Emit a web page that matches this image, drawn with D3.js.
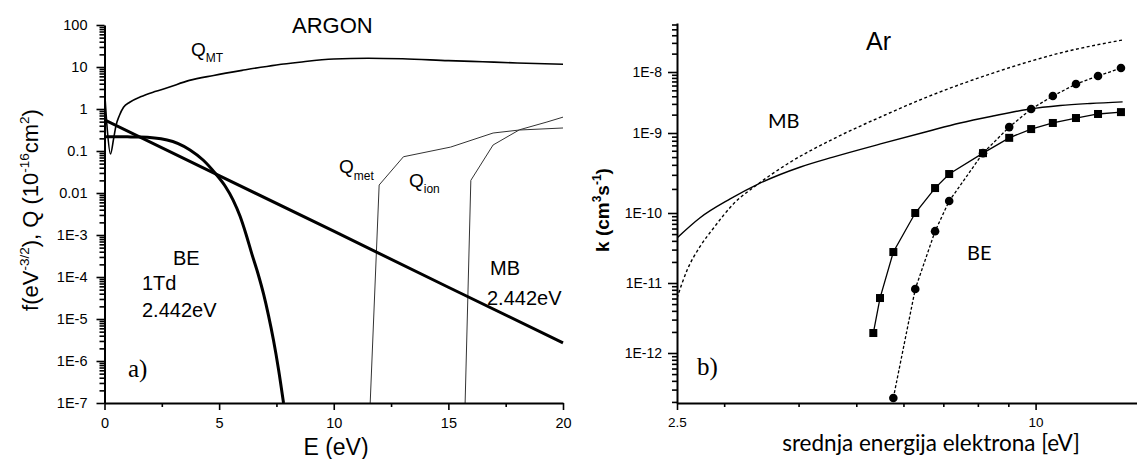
<!DOCTYPE html>
<html><head><meta charset="utf-8">
<script src="https://cdn.jsdelivr.net/npm/d3@7"></script>
<style>body{margin:0;background:#fff} svg{display:block}</style>
</head><body><svg id="c" width="1137" height="459"></svg>
<script>
// ---------- Panel a) ARGON ----------
const aXTicks = [0, 5, 10, 15, 20];
const aXMinor = [2.5, 7.5, 12.5, 17.5];
const aYTicks = [100, 10, 1, 0.1, 0.01, 1e-3, 1e-4, 1e-5, 1e-6, 1e-7];
const aYTickLabels = ["100", "10", "1", "0.1", "0.01", "1E-3", "1E-4", "1E-5", "1E-6", "1E-7"];

const aE_MB = [0, 5, 10, 15, 20];
const aMB = [0.55, 0.026, 1.23e-3, 5.7e-5, 2.7e-6];

const aE_BE = [0, 1, 1.55, 2.73, 3.73, 4.30, 4.82, 5.26, 5.61, 5.91, 6.17, 6.43, 6.70, 6.94, 7.15, 7.37, 7.59, 7.81];
const aBE = [0.219, 0.217, 0.215, 0.183, 0.106, 0.061, 0.030, 0.0147, 6.8e-3, 2.83e-3, 1.06e-3, 3.5e-4, 1.18e-4, 3.9e-5, 1.24e-5, 3.16e-6, 6.4e-7, 1e-7];

const aE_QMT = [0, 0.05, 0.12, 0.26, 0.4, 0.5, 0.65, 0.83, 1.1, 1.57, 2.2, 2.74, 3.7, 4.76, 6, 7.5, 8.5, 10, 11.5, 13, 15, 16.5, 18, 20];
const aQMT = [3, 1.1, 0.33, 0.085, 0.2, 0.4, 0.7, 1.1, 1.45, 1.95, 2.6, 3.2, 4.8, 6.3, 8.3, 11.2, 13, 15.5, 16.2, 15.7, 14.2, 13.3, 12.5, 11.6];

const aE_Qmet = [11.59, 11.98, 13.04, 15.1, 16.95, 18.1, 20];
const aQmet = [1e-7, 0.0155, 0.073, 0.124, 0.268, 0.316, 0.353];

const aE_Qion = [15.73, 15.98, 16.95, 18.1, 19.3, 20];
const aQion = [1e-7, 0.02, 0.139, 0.32, 0.49, 0.64];

// ---------- Panel b) Ar ----------
const bXTicks = [2.5, 10];
const bXTickLabels = ["2.5", "10"];
const bXMinor = [3, 4, 5, 6, 7, 8, 9];
const bYTicks = [1e-8, 1e-9, 1e-10, 1e-11, 1e-12];
const bYTickLabels = ["1E-8", "1E-9", "1E-10", "1E-11", "1E-12"];

const bE_MB = [2.5, 2.73, 3.07, 3.42, 4.03, 4.57, 5.49, 6.58, 7.47, 8.48, 9.68, 11.0, 12.35, 14.0];
const bMB = [4.4e-11, 8.5e-11, 1.5e-10, 2.3e-10, 3.76e-10, 5.0e-10, 7.3e-10, 1.06e-9, 1.46e-9, 1.9e-9, 2.43e-9, 2.82e-9, 3.05e-9, 3.24e-9];

const bE_MBd = [2.5, 2.6, 2.73, 2.88, 3.11, 3.42, 3.83, 4.57, 5.49, 6.58, 8.48, 11.0, 14.0];
const bMBd = [6.1e-12, 1.53e-11, 3.27e-11, 6.1e-11, 1.3e-10, 2.3e-10, 4.1e-10, 8.4e-10, 1.83e-9, 3.9e-9, 9.6e-9, 2.05e-8, 3.35e-8];

const bE_sq = [5.34, 5.48, 5.77, 6.28, 6.78, 7.16, 8.16, 9.03, 9.83, 10.69, 11.69, 12.73, 13.91];
const bSq = [1.93e-12, 6.1e-12, 2.77e-11, 1.0e-10, 2.05e-10, 3.07e-10, 5.6e-10, 8.7e-10, 1.16e-9, 1.46e-9, 1.76e-9, 2.05e-9, 2.2e-9];

const bE_ci = [5.77, 6.28, 6.78, 7.16, 8.16, 9.03, 9.83, 10.69, 11.69, 12.73, 13.91];
const bCi = [2.28e-13, 8.2e-12, 5.5e-11, 1.41e-10, 5.6e-10, 1.25e-9, 2.47e-9, 4.04e-9, 6.35e-9, 8.6e-9, 1.16e-8];

const svg = d3.select("#c");
const SANS = "'Liberation Sans', Arial, sans-serif";
const SERIF = "'Liberation Serif', 'Times New Roman', serif";
const zip = (xs, ys) => xs.map((x, i) => [x, ys[i]]);

// ===== Panel a =====
const xa = d3.scaleLinear().domain([0, 20]).range([104.5, 563]);
const ya = d3.scaleLog().domain([1e-7, 100]).range([403, 25]);

svg.append("clipPath").attr("id", "ca").append("rect")
  .attr("x", 104).attr("y", 20).attr("width", 462).attr("height", 383);

const ga = svg.append("g");
const lineA = (curve) => d3.line().x(d => xa(d[0])).y(d => ya(d[1])).curve(curve);
const pa = ga.append("g").attr("clip-path", "url(#ca)").attr("fill", "none");
pa.append("path").attr("d", lineA(d3.curveMonotoneX)(zip(aE_QMT, aQMT))).attr("stroke", "#000").attr("stroke-width", 1.6);
pa.append("path").attr("d", lineA(d3.curveLinear)(zip(aE_Qmet, aQmet))).attr("stroke", "#333").attr("stroke-width", 1);
pa.append("path").attr("d", lineA(d3.curveLinear)(zip(aE_Qion, aQion))).attr("stroke", "#333").attr("stroke-width", 1);
pa.append("path").attr("d", lineA(d3.curveLinear)(zip(aE_MB, aMB))).attr("stroke", "#000").attr("stroke-width", 3);
pa.append("path").attr("d", lineA(d3.curveMonotoneX)(zip(aE_BE, aBE))).attr("stroke", "#000").attr("stroke-width", 3);

// axes a
const axA = ga.append("g").attr("font-family", SANS);
const xaMaj = axA.append("g").attr("transform", "translate(0,403)")
  .call(d3.axisBottom(xa).tickValues(aXTicks).tickFormat(d3.format("d")).tickSize(7).tickPadding(8).tickSizeOuter(0));
const xaMin = axA.append("g").attr("transform", "translate(0,403)")
  .call(d3.axisBottom(xa).tickValues(aXMinor).tickFormat("").tickSize(4).tickSizeOuter(0));
const yaMinorVals = ya.ticks().filter(v => !aYTicks.some(t => Math.abs(Math.log10(t) - Math.log10(v)) < 1e-6));
const yaMaj = axA.append("g").attr("transform", "translate(104.5,0)")
  .call(d3.axisLeft(ya).tickValues(aYTicks).tickFormat((d, i) => aYTickLabels[i]).tickSize(8).tickPadding(9).tickSizeOuter(0));
const yaMin = axA.append("g").attr("transform", "translate(104.5,0)")
  .call(d3.axisLeft(ya).tickValues(yaMinorVals).tickFormat("").tickSize(5).tickSizeOuter(0));
[xaMaj, yaMaj].forEach(g => { g.select(".domain").attr("stroke-width", 2); g.selectAll("text").attr("font-size", 14.5).attr("fill", "#000"); });
[xaMin, yaMin].forEach(g => g.select(".domain").remove());
axA.selectAll(".tick line").attr("stroke-width", 1.6);

// texts a
const ta = ga.append("g").attr("font-family", SANS).attr("fill", "#000");
ta.append("text").attr("x", 292).attr("y", 33).attr("font-size", 22).text("ARGON");
ta.append("text").attr("x", 336).attr("y", 455).attr("font-size", 23).attr("text-anchor", "middle").text("E (eV)");
const qmt = ta.append("text").attr("x", 191).attr("y", 56).attr("font-size", 19);
qmt.append("tspan").text("Q");
qmt.append("tspan").attr("font-size", 12).attr("dy", 6).text("MT");
const qmet = ta.append("text").attr("x", 339).attr("y", 173).attr("font-size", 19);
qmet.append("tspan").text("Q");
qmet.append("tspan").attr("font-size", 12).attr("dy", 7).text("met");
const qion = ta.append("text").attr("x", 409).attr("y", 187).attr("font-size", 19);
qion.append("tspan").text("Q");
qion.append("tspan").attr("font-size", 12).attr("dy", 6).text("ion");
ta.append("text").attr("x", 173).attr("y", 265).attr("font-size", 20).text("BE");
ta.append("text").attr("x", 142).attr("y", 290).attr("font-size", 20).text("1Td");
ta.append("text").attr("x", 142).attr("y", 317).attr("font-size", 20).text("2.442eV");
ta.append("text").attr("x", 490).attr("y", 275).attr("font-size", 20).text("MB");
ta.append("text").attr("x", 487).attr("y", 305).attr("font-size", 20).text("2.442eV");
ta.append("text").attr("x", 128).attr("y", 377).attr("font-size", 25).attr("font-family", SERIF).text("a)");
const yta = ta.append("text").attr("transform", "translate(38,210) rotate(-90)").attr("text-anchor", "middle").attr("font-size", 22);
yta.append("tspan").text("f(eV");
yta.append("tspan").attr("font-size", 13.5).attr("dy", -9).text("-3/2");
yta.append("tspan").attr("dy", 9).text("), Q (10");
yta.append("tspan").attr("font-size", 13.5).attr("dy", -9).text("-16");
yta.append("tspan").attr("dy", 9).text("cm");
yta.append("tspan").attr("font-size", 13.5).attr("dy", -9).text("2");
yta.append("tspan").attr("dy", 9).text(")");

// ===== Panel b =====
const xb = d3.scaleLog().domain([2.5, 14.8]).range([677, 1137]);
const yb = d3.scaleLog().domain([1.93e-13, 1e-12, 1e-11, 1e-10, 1e-9, 1e-8, 6.35e-8]).range([403, 353, 283, 213, 133, 72, 23]);

svg.append("clipPath").attr("id", "cb").append("rect")
  .attr("x", 677).attr("y", 20).attr("width", 460).attr("height", 383);
const gb = svg.append("g");
const lineB = (curve) => d3.line().x(d => xb(d[0])).y(d => yb(d[1])).curve(curve);
const pb = gb.append("g").attr("clip-path", "url(#cb)").attr("fill", "none");
pb.append("path").attr("d", lineB(d3.curveMonotoneX)(zip(bE_MB, bMB))).attr("stroke", "#000").attr("stroke-width", 1.4);
pb.append("path").attr("d", lineB(d3.curveMonotoneX)(zip(bE_MBd, bMBd))).attr("stroke", "#000").attr("stroke-width", 1.4).attr("stroke-dasharray", "3,2.5");
pb.append("path").attr("d", lineB(d3.curveLinear)(zip(bE_sq, bSq))).attr("stroke", "#000").attr("stroke-width", 1.3);
pb.append("path").attr("d", lineB(d3.curveLinear)(zip(bE_ci, bCi))).attr("stroke", "#000").attr("stroke-width", 1.3).attr("stroke-dasharray", "3,2");
gb.append("g").selectAll("rect").data(zip(bE_sq, bSq)).join("rect")
  .attr("x", d => xb(d[0]) - 4).attr("y", d => yb(d[1]) - 4).attr("width", 8).attr("height", 8).attr("fill", "#000");
gb.append("g").selectAll("circle").data(zip(bE_ci, bCi)).join("circle")
  .attr("cx", d => xb(d[0])).attr("cy", d => yb(d[1])).attr("r", 4.3).attr("fill", "#000");

const axB = gb.append("g").attr("font-family", SANS);
const xbMaj = axB.append("g").attr("transform", "translate(0,403)")
  .call(d3.axisBottom(xb).tickValues(bXTicks).tickFormat((d, i) => bXTickLabels[i]).tickSize(7).tickPadding(7).tickSizeOuter(0));
const xbMin = axB.append("g").attr("transform", "translate(0,403)")
  .call(d3.axisBottom(xb).tickValues(bXMinor).tickFormat("").tickSize(4).tickSizeOuter(0));
const ybMinorVals = yb.ticks().filter(v => !bYTicks.some(t => Math.abs(Math.log10(t) - Math.log10(v)) < 1e-6));
const ybMaj = axB.append("g").attr("transform", "translate(677,0)")
  .call(d3.axisLeft(yb).tickValues(bYTicks).tickFormat((d, i) => bYTickLabels[i]).tickSize(9).tickPadding(6).tickSizeOuter(0));
const ybMin = axB.append("g").attr("transform", "translate(677,0)")
  .call(d3.axisLeft(yb).tickValues(ybMinorVals).tickFormat("").tickSize(5).tickSizeOuter(0));
[xbMaj, ybMaj].forEach(g => { g.select(".domain").attr("stroke-width", 2); g.selectAll("text").attr("fill", "#000"); });
xbMaj.selectAll("text").attr("font-size", 13.5);
ybMaj.selectAll("text").attr("font-size", 14);
[xbMin, ybMin].forEach(g => g.select(".domain").remove());
axB.selectAll(".tick line").attr("stroke-width", 1.6);

const tb = gb.append("g").attr("fill", "#000");
tb.append("text").attr("x", 866).attr("y", 50).attr("font-size", 25).attr("font-family", SANS).text("Ar");
tb.append("text").attr("x", 768).attr("y", 128).attr("font-size", 20).attr("font-family", "Lato, sans-serif").text("MB");
tb.append("text").attr("x", 967).attr("y", 260).attr("font-size", 20).attr("font-family", "Lato, sans-serif").text("BE");
tb.append("text").attr("x", 697).attr("y", 375).attr("font-size", 25).attr("font-family", SERIF).text("b)");
tb.append("text").attr("x", 931).attr("y", 451).attr("font-size", 22.5).attr("text-anchor", "middle")
  .attr("font-family", "Lato, sans-serif").text("srednja energija elektrona [eV]");
const ytb = tb.append("text").attr("transform", "translate(609,210) rotate(-90)").attr("text-anchor", "middle")
  .attr("font-size", 19).attr("font-weight", "bold").attr("font-family", SANS);
ytb.append("tspan").text("k  (cm");
ytb.append("tspan").attr("font-size", 12).attr("dy", -8).text("3");
ytb.append("tspan").attr("dy", 8).text("s");
ytb.append("tspan").attr("font-size", 12).attr("dy", -8).text("-1");
ytb.append("tspan").attr("dy", 8).text(")");
</script>
</body></html>
